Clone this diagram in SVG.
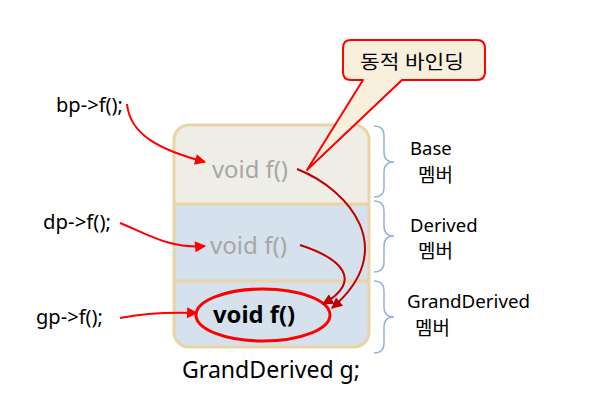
<svg xmlns="http://www.w3.org/2000/svg" width="591" height="406" viewBox="0 0 591 406">
<style>
text{font-family:"Noto Sans","Noto Sans CJK KR",sans-serif;fill:#000}
.lbl{font-size:18.5px}
.kr{font-size:19px}
.code{font-size:19px}
.gray{font-size:23.5px;fill:#A6A6A6}
.bold{font-size:24px;font-weight:bold}
.big{font-size:23px}
.brace{fill:none;stroke:#95B3D7;stroke-width:1.5}
.red{fill:none;stroke:#FF0000;stroke-width:2}
.dred{fill:none;stroke:#C00000;stroke-width:2}
</style>
<defs>
<marker id="ar" viewBox="0 0 10 10" refX="9" refY="5" markerWidth="7" markerHeight="5.5" markerUnits="strokeWidth" orient="auto"><path d="M0,0 L10,5 L0,10 Z" fill="#FF0000"/></marker>
<marker id="ad" viewBox="0 0 10 10" refX="9" refY="5" markerWidth="7" markerHeight="5.5" markerUnits="strokeWidth" orient="auto"><path d="M0,0 L10,5 L0,10 Z" fill="#C00000"/></marker>
<clipPath id="boxclip"><rect x="174" y="125" width="195" height="222" rx="15"/></clipPath>
</defs>
<g id="object-g">
<g clip-path="url(#boxclip)">
<rect x="174" y="125" width="195" height="79" fill="#EEEEE6"/>
<rect x="174" y="204" width="195" height="143" fill="#D5E1EC"/>
</g>
<line x1="174" y1="204" x2="369" y2="204" stroke="#EAD4A6" stroke-width="3"/>
<line x1="174" y1="281" x2="369" y2="281" stroke="#EAD4A6" stroke-width="3"/>
<rect x="174" y="125" width="195" height="222" rx="15" fill="none" stroke="#EAD4A6" stroke-width="3"/>
<text x="182" y="378" class="big" textLength="178" lengthAdjust="spacingAndGlyphs">GrandDerived g;</text>
</g>
<g id="base-f"><text x="212" y="178" class="gray" textLength="76" lengthAdjust="spacingAndGlyphs">void f()</text></g>
<g id="derived-f"><text x="210" y="254" class="gray" textLength="77" lengthAdjust="spacingAndGlyphs">void f()</text></g>
<g id="grand-f">
<ellipse cx="263" cy="315" rx="67" ry="26" fill="none" stroke="#FF0000" stroke-width="3"/>
<text x="213" y="323" class="bold" textLength="82" lengthAdjust="spacingAndGlyphs">void f()</text>
</g>
<g id="callout">
<path d="M351,40 H477 Q485,40 485,48 V72 Q485,80 477,80 H402 L307,170 L363,80 H351 Q343,80 343,72 V48 Q343,40 351,40 Z" fill="#F8F0DD" stroke="#FF0000" stroke-width="2" stroke-linejoin="round"/>
<text x="412" y="69" text-anchor="middle" class="kr" textLength="104" lengthAdjust="spacingAndGlyphs">동적 바인딩</text>
</g>
<g id="calls">
<text x="56" y="112" class="code" textLength="67" lengthAdjust="spacingAndGlyphs">bp-&gt;f();</text>
<text x="43" y="229" class="code" textLength="68" lengthAdjust="spacingAndGlyphs">dp-&gt;f();</text>
<text x="36" y="324" class="code" textLength="67" lengthAdjust="spacingAndGlyphs">gp-&gt;f();</text>
</g>
<g id="braces">
<path class="brace" d="M374,126 Q384,126 384,136 V152 Q384,162 394,162 Q384,162 384,172 V188 Q384,197 374,197"/>
<path class="brace" d="M374,201 Q384,201 384,211 V226 Q384,236 394,236 Q384,236 384,246 V262 Q384,272 374,272"/>
<path class="brace" d="M374,281 Q384,281 384,291 V307 Q384,317 394,317 Q384,317 384,327 V343 Q384,353 374,353"/>
</g>
<g id="member-labels">
<text x="410" y="155" class="lbl">Base</text>
<text x="418" y="182" class="kr">멤버</text>
<text x="410" y="232" class="lbl">Derived</text>
<text x="418" y="258" class="kr">멤버</text>
<text x="407" y="308" class="lbl" textLength="123" lengthAdjust="spacingAndGlyphs">GrandDerived</text>
<text x="415" y="335" class="kr">멤버</text>
</g>
<g id="connectors">
<path class="red" d="M127,104 C130,135 160,150 205,162" marker-end="url(#ar)"/>
<path class="red" d="M120,223 C150,235 170,249 205,246" marker-end="url(#ar)"/>
<path class="red" d="M120,318 C140,314 170,312 197,313" marker-end="url(#ar)"/>
<path class="dred" d="M297,169 C350,190 400,250 332,308" marker-end="url(#ad)"/>
<path class="dred" d="M300,245 C340,258 365,280 323,304" marker-end="url(#ad)"/>
</g>
</svg>
